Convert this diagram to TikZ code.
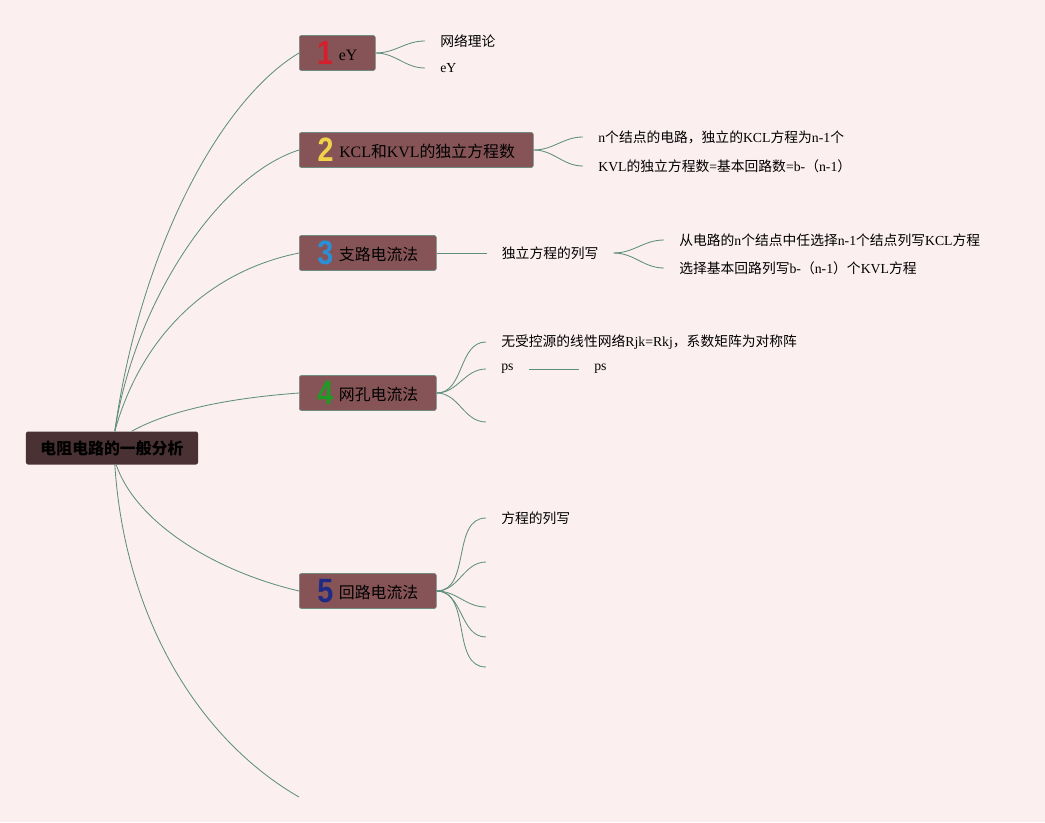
\documentclass[tikz,border=0pt]{standalone}
\usepackage{fontspec}
\setmainfont{Liberation Serif}
\newfontfamily\cjk{Noto Sans CJK SC}
\newfontfamily\numfont{Liberation Sans}
\usepackage{graphicx}
\usetikzlibrary{positioning}
\definecolor{bg}{HTML}{FCEFF0}
\definecolor{topicfill}{HTML}{865456}
\definecolor{topicline}{HTML}{6E8C80}
\definecolor{rootfill}{HTML}{4A3234}
\definecolor{branchline}{HTML}{5E8F7E}
\definecolor{numA}{HTML}{D41F2D}
\definecolor{numB}{HTML}{F2D14B}
\definecolor{numC}{HTML}{2B8FD8}
\definecolor{numD}{HTML}{1E9A25}
\definecolor{numE}{HTML}{1F2A85}
\newcommand\badge[2]{\raisebox{-3pt}{\textcolor{#1}{\scalebox{0.85}[1]{\numfont\bfseries\fontsize{24}{24}\selectfont #2}}}\hspace{4pt}}
\tikzset{
  topic/.style={anchor=west, draw=topicline, fill=topicfill, rounded corners=1.5pt,
    minimum height=0.875cm, inner xsep=0pt, inner ysep=2pt, font=\fontsize{11.3}{13}\selectfont},
  leaf/.style={anchor=west, inner xsep=10.7pt, inner ysep=1pt, font=\fontsize{9.8}{12}\selectfont},
  branch/.style={draw=branchline, line width=0.6pt}
}

\begin{document}
\begin{tikzpicture}[x=0.025cm, y=-0.025cm]
\useasboundingbox[fill=bg] (0,0) rectangle (1045,822);
\node[fill=rootfill, rounded corners=1.5pt, minimum width=4.3cm,
  minimum height=0.825cm, font=\fontsize{11.3}{13}\selectfont\cjk\bfseries] (root) at (112,448) {电阻电路的一般分析};
\node[topic, minimum width=1.9cm] (b1) at (299,53) {\badge{numA}{1}eY};
\node[topic, minimum width=5.85cm] (b2) at (299,150) {\badge{numB}{2}KCL{\cjk 和}KVL{\cjk 的独立方程数}};
\node[topic, minimum width=3.425cm] (b3) at (299,253) {\badge{numC}{3}{\cjk 支路电流法}};
\node[topic, minimum width=3.425cm] (b4) at (299,393) {\badge{numD}{4}{\cjk 网孔电流法}};
\node[topic, minimum width=3.425cm] (b5) at (299,591) {\badge{numE}{5}{\cjk 回路电流法}};
\coordinate (b6) at (299,797);

\draw[branch] ([xshift=2pt]root.north) .. controls (140,250) and (220,100) .. (b1.west);
\draw[branch] ([xshift=2pt]root.north) .. controls (135,300) and (220,175) .. (b2.west);
\draw[branch] ([xshift=2pt]root.north) .. controls (140,340) and (205,272) .. (b3.west);
\draw[branch] ([xshift=14pt]root.north) .. controls (170,410) and (230,398) .. (b4.west);
\draw[branch] ([xshift=3pt]root.south) .. controls (135,520) and (210,570) .. (b5.west);
\draw[branch] ([xshift=2pt]root.south) .. controls (125,620) and (200,740) .. (b6);

% eY
\node[leaf] (b1a) at (425,41) {\cjk 网络理论};
\node[leaf] (b1b) at (425,68) {eY};
\draw[branch] (b1.east) to[out=0,in=180] (b1a.west);
\draw[branch] (b1.east) to[out=0,in=180] (b1b.west);

% KCL / KVL
\node[leaf] (b2a) at (583,137) {n{\cjk 个结点的电路，独立的}KCL{\cjk 方程为}n-1{\cjk 个}};
\node[leaf] (b2b) at (583,166) {KVL{\cjk 的独立方程数}={\cjk 基本回路数}=b-{\cjk （}n-1{\cjk ）}};
\draw[branch] (b2.east) to[out=0,in=180] (b2a.west);
\draw[branch] (b2.east) to[out=0,in=180] (b2b.west);

% branch current
\node[leaf, right=1.25cm of b3] (b3a) {\cjk 独立方程的列写};
\node[leaf] (b3b) at (664,240) {{\cjk 从电路的}n{\cjk 个结点中任选择}n-1{\cjk 个结点列写}KCL{\cjk 方程}};
\node[leaf] (b3c) at (664,268) {{\cjk 选择基本回路列写}b-{\cjk （}n-1{\cjk ）个}KVL{\cjk 方程}};
\draw[branch] (b3.east) -- (b3a.west);
\draw[branch] (b3a.east) to[out=0,in=180] (b3b.west);
\draw[branch] (b3a.east) to[out=0,in=180] (b3c.west);

% mesh current
\node[leaf] (b4a) at (486,342) {{\cjk 无受控源的线性网络}Rjk=Rkj{\cjk ，系数矩阵为对称阵}};
\node[leaf] (b4b) at (486,369) {ps};
\node[leaf, right=1.25cm of b4b] (b4c) {ps};
\coordinate (b4d) at (486,422);
\draw[branch] (b4.east) to[out=0,in=180] (b4a.west);
\draw[branch] (b4.east) to[out=0,in=180] (b4b.west);
\draw[branch] (b4.east) to[out=0,in=180] (b4d);
\draw[branch] (b4b.east) -- (b4c.west);

% loop current
\node[leaf] (b5a) at (486,518) {\cjk 方程的列写};
\draw[branch] (b5.east) to[out=0,in=180] (b5a.west);
\foreach \y [count=\i] in {562,607,637,667} {
    \coordinate (b5e\i) at (486,\y);
    \draw[branch] (b5.east) to[out=0,in=180] (b5e\i);
}
\end{tikzpicture}
\end{document}
